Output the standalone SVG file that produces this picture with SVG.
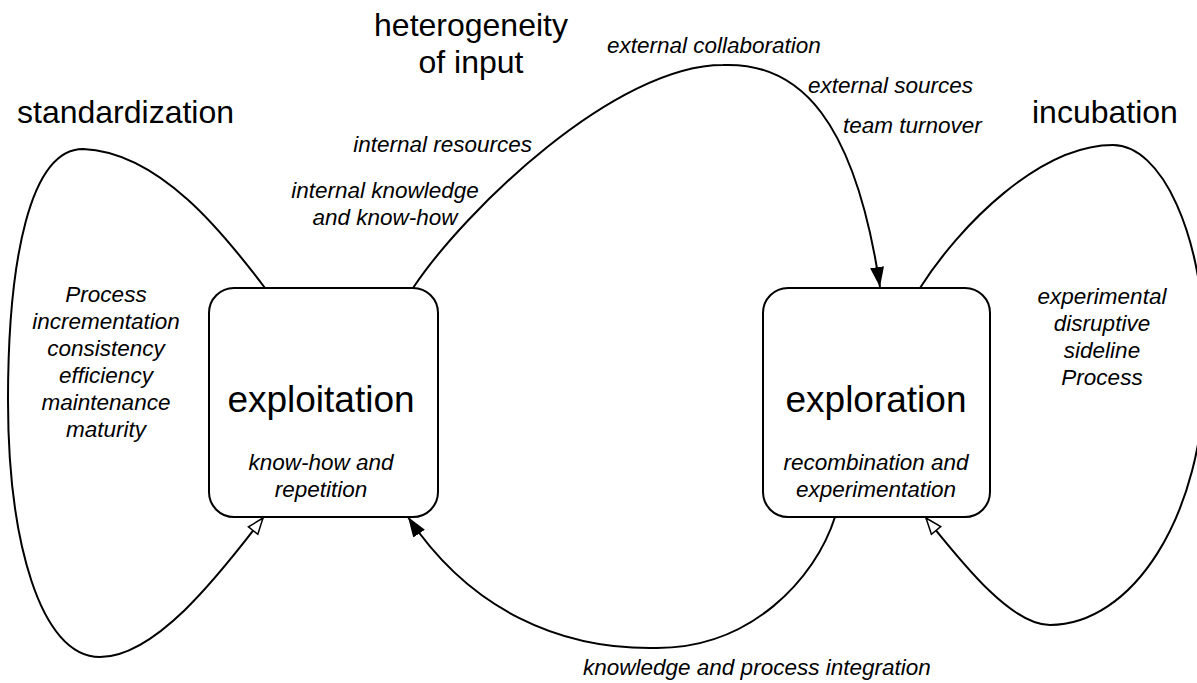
<svg xmlns="http://www.w3.org/2000/svg" width="1197" height="683" viewBox="0 0 1197 683">
<style>
.box{fill:#fff;stroke:#000;stroke-width:2}
.edge{fill:none;stroke:#000;stroke-width:2}
.title{font-family:"Liberation Sans",Arial,sans-serif;font-size:32px;fill:#000}
.main{font-family:"Liberation Sans",Arial,sans-serif;font-size:37px;fill:#000;text-anchor:middle}
.lbl{font-family:"Liberation Sans",Arial,sans-serif;font-size:22.5px;font-style:italic;fill:#000}
.mid{text-anchor:middle}
.end{text-anchor:end}
</style>
<defs>
<marker id="solid" viewBox="0 0 20 14" refX="20" refY="7" markerWidth="20" markerHeight="14" orient="auto" markerUnits="userSpaceOnUse">
<path d="M0,0 L20,7 L0,14 z" fill="#000"/>
</marker>
<marker id="open" viewBox="-2 -2 20 16" refX="16" refY="6" markerWidth="20" markerHeight="16" orient="auto" markerUnits="userSpaceOnUse">
<path d="M0,0 L16,6 L0,12 z" fill="#fff" stroke="#000" stroke-width="1.5"/>
</marker>
</defs>
<rect width="1197" height="683" fill="#fff"/>
<g id="connectors">
<path id="standardization-loop" class="edge" marker-end="url(#open)" d="M265,288 C225,235 160,152 83,149 C30,149 8,260 8,400 C8,540 40,657 100,657 C160,657 230,560 263,518"/>
<path id="incubation-loop" class="edge" marker-end="url(#open)" d="M920,288 C960,225 1040,145 1113,145 C1160,145 1205,230 1205,365 C1205,520 1130,625 1050,625 C1010,625 960,560 926,518"/>
<path id="input-arc" class="edge" marker-end="url(#solid)" d="M413,288 C465,210 615,65 723,65 C800,62 855,120 880,287"/>
<path id="integration-arc" class="edge" marker-end="url(#solid)" d="M835,517 C815,580 750,648 657,648 C560,650 470,610 408,517"/>
</g>
<g id="exploitation">
<rect class="box" x="209" y="288" width="229" height="229" rx="25" ry="25"/>
<text class="main" x="321" y="412">exploitation</text>
<text class="lbl mid" x="321" y="470">know-how and</text>
<text class="lbl mid" x="321" y="497">repetition</text>
</g>
<g id="exploration">
<rect class="box" x="763" y="288" width="227" height="229" rx="25" ry="25"/>
<text class="main" x="876" y="412">exploration</text>
<text class="lbl mid" x="876" y="470">recombination and</text>
<text class="lbl mid" x="876" y="497">experimentation</text>
</g>
<g id="standardization">
<text class="title" x="17" y="123">standardization</text>
<text class="lbl mid" x="106" y="302">Process</text>
<text class="lbl mid" x="106" y="329">incrementation</text>
<text class="lbl mid" x="106" y="356">consistency</text>
<text class="lbl mid" x="106" y="383">efficiency</text>
<text class="lbl mid" x="106" y="410">maintenance</text>
<text class="lbl mid" x="106" y="437">maturity</text>
</g>
<g id="incubation">
<text class="title" x="1032" y="123">incubation</text>
<text class="lbl mid" x="1102" y="304">experimental</text>
<text class="lbl mid" x="1102" y="331">disruptive</text>
<text class="lbl mid" x="1102" y="358">sideline</text>
<text class="lbl mid" x="1102" y="385">Process</text>
</g>
<g id="heterogeneity">
<text class="title mid" x="471" y="36" text-anchor="middle">heterogeneity</text>
<text class="title mid" x="471" y="73" text-anchor="middle">of input</text>
<text class="lbl" x="607" y="53">external collaboration</text>
<text class="lbl" x="808" y="93">external sources</text>
<text class="lbl" x="843" y="133">team turnover</text>
<text class="lbl end" x="532" y="152">internal resources</text>
<text class="lbl mid" x="385" y="198">internal knowledge</text>
<text class="lbl mid" x="385" y="225">and know-how</text>
</g>
<g id="integration">
<text class="lbl" x="583" y="675">knowledge and process integration</text>
</g>
</svg>
